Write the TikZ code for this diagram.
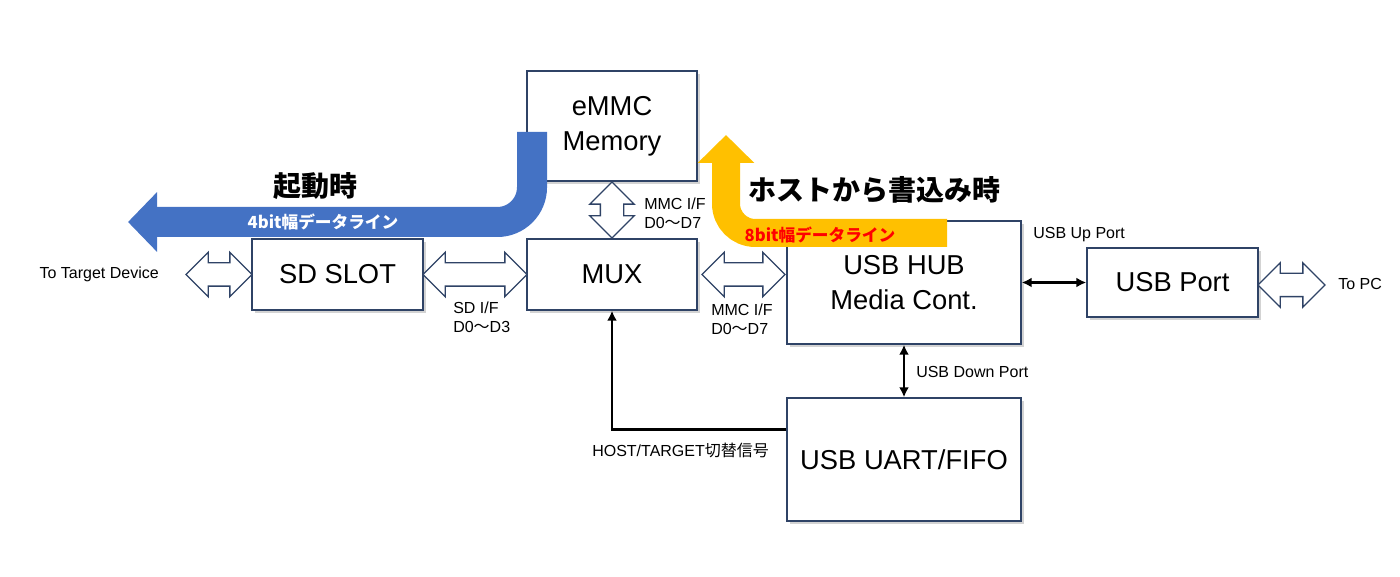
\documentclass[tikz,border=0pt]{standalone}
\usepackage{fontspec}
\setmainfont{Liberation Sans}
\newfontfamily\jpfont{Noto Sans CJK JP}
\usepackage{tikz}
\usetikzlibrary{arrows.meta,shapes.arrows,shadows,calc}
\definecolor{boxline}{HTML}{2F4366}
\definecolor{bootblue}{HTML}{4472C4}
\definecolor{hostgold}{HTML}{FFC000}

\begin{document}
\begin{tikzpicture}[x=0.75pt,y=0.75pt,yscale=-1,xscale=1,
  block/.style={draw=boxline, line width=1.1pt, fill=white, inner sep=0pt, align=center,
    font=\fontsize{20.5}{26.5}\selectfont, drop shadow={shadow xshift=2pt, shadow yshift=-2pt, opacity=0.35, fill=gray}},
  bus/.style={double arrow, draw=boxline, line width=1pt, fill=white, inner sep=0pt, inner ysep=8.25pt,
    minimum width=32.25pt, double arrow head extend=7.875pt},
  lbl/.style={font=\fontsize{12}{14}\selectfont, inner sep=0.75pt, align=left},
  sig/.style={line width=2.2pt, -{Latex[length=7.5pt,width=7.5pt]}},
  sigboth/.style={line width=2.2pt, {Latex[length=7.5pt,width=7.5pt]}-{Latex[length=7.5pt,width=7.5pt]}}]
\useasboundingbox (0,0) rectangle (1400,577);

%Blocks
\node [block, minimum width=127.5pt, minimum height=82.5pt] (emmc) at (612,126) {eMMC\\Memory};
\node [block, minimum width=128.25pt, minimum height=53.25pt] (sd) at (337.5,274.5) {SD SLOT};
\node [block, minimum width=127.5pt, minimum height=53.25pt] (mux) at (612,274.5) {MUX};
\node [block, minimum width=175.5pt, minimum height=92.25pt] (hub) at (904,282.5) {USB HUB\\Media Cont.};
\node [block, minimum width=175.5pt, minimum height=92.25pt] (uart) at (904,459.5) {USB UART/FIFO};
\node [block, minimum width=128.25pt, minimum height=51.75pt] (usbport) at (1172.5,282.5) {USB Port};

%Bus arrows
\node [bus, minimum height=49.5pt] (tgtbus) at (219,274.5) {};
\node [bus, minimum height=78pt] (sdbus) at ($(sd.east)!0.5!(mux.west)$) {};
\node [bus, minimum height=62.25pt] (hubbus) at (743.5,274.5) {};
\node [bus, minimum height=42pt, rotate=90] (emmcbus) at ($(emmc.south)!0.5!(mux.north)$) {};
\node [bus, minimum height=50.25pt] (pcbus) at (1291.5,285) {};

%Signal lines
\draw [sigboth] (hub.east) -- (usbport.west);
\draw [sigboth] (hub.south) -- (uart.north);
\draw [sig] ($(uart.north west)!0.26!(uart.south west)$) -| (mux.south);

%Data paths
\coordinate (bootstart) at (532,132);
\coordinate (bootend) at (128,222);
\draw [bootblue, line width=22.5pt, rounded corners=26pt, -{Triangle[length=21.75pt,width=43.5pt]}] (bootstart) -- (bootstart |- bootend) -- (bootend);
\coordinate (hoststart) at (947,233);
\coordinate (hostend) at (726,135);
\draw [hostgold, line width=21pt, rounded corners=22pt, -{Triangle[length=21pt,width=41.25pt]}] (hoststart) -- (hostend |- hoststart) -- (hostend);

% Text Node
\draw (160,274) node [lbl, anchor=east] (tgtlbl) {To Target Device};
% Text Node
\draw (452,301) node [lbl, anchor=north west] (sdif) {SD I/F\\D0{\jpfont ～}D3};
% Text Node
\draw (643,197) node [lbl, anchor=north west] (mmcif) {MMC I/F\\D0{\jpfont ～}D7};
% Text Node
\draw (710,303) node [lbl, anchor=north west] (hubif) {MMC I/F\\D0{\jpfont ～}D7};
% Text Node
\draw (1032,235) node [lbl, anchor=west] (uplbl) {USB Up Port};
% Text Node
\draw (915,372) node [lbl, anchor=west] (downlbl) {USB Down Port};
% Text Node
\draw (591,450) node [lbl, anchor=west] (swlbl) {HOST/TARGET{\jpfont 切替信号}};
% Text Node
\draw (1337,284) node [lbl, anchor=west] (pclbl) {To PC};
% Text Node
\draw (315,186) node [font=\jpfont\bfseries\fontsize{21}{24}\selectfont] (bootlbl) {起動時};
% Text Node
\draw (874,190) node [font=\jpfont\bfseries\fontsize{21}{24}\selectfont] (hostlbl) {ホストから書込み時};
% Text Node
\draw (323,222) node [white, font=\jpfont\bfseries\fontsize{12.5}{14}\selectfont] (bootbus) {4bit幅データライン};
% Text Node
\draw (820,235) node [red, font=\jpfont\bfseries\fontsize{12.5}{14}\selectfont] (hostbus) {8bit幅データライン};

\end{tikzpicture}
\end{document}
